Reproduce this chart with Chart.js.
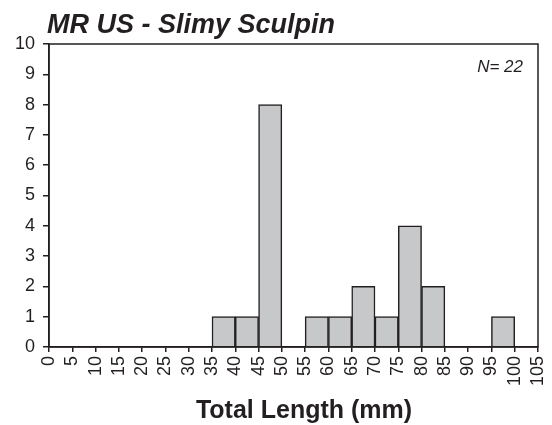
<!DOCTYPE html>
<html>
<head>
<meta charset="utf-8">
<script src="https://cdn.jsdelivr.net/npm/chart.js@4"></script>
<style>
  html, body { margin: 0; padding: 0; background: #fff; }
  #wrap { width: 552px; height: 425px; }
</style>
</head>
<body>
<div id="wrap"><canvas id="lengthChart" width="552" height="425"></canvas></div>
<script>
const chartTitle = "MR US - Slimy Sculpin";
const sampleLabel = "N= 22";
const axisTitle = "Total Length (mm)";

// left edge of each 5 mm length class and its fish count
const binEdges = [0, 5, 10, 15, 20, 25, 30, 35, 40, 45, 50, 55, 60, 65, 70, 75, 80, 85, 90, 95, 100];
const counts   = [0, 0, 0, 0, 0, 0, 0, 1, 1, 8, 0, 1, 1, 2, 1, 4, 2, 0, 0, 1, 0];
const binWidth = 5;

const ink = "#231f20";
const fontFamily = "'Liberation Sans', Arial, sans-serif";

const points = binEdges.map((e, i) => ({ x: e + binWidth / 2, y: counts[i] }));

// plot frame, titles and sample size
const frame = {
    id: "frame",
    afterDatasetsDraw(chart) {
        const a = chart.chartArea;
        const ctx = chart.ctx;
        ctx.save();
        ctx.strokeStyle = ink;
        ctx.lineWidth = 1.5;
        ctx.strokeRect(a.left, a.top, a.right - a.left, a.bottom - a.top);

        ctx.fillStyle = ink;
        ctx.textBaseline = "alphabetic";
        ctx.font = "italic bold 27px " + fontFamily;
        ctx.textAlign = "left";
        ctx.fillText(chartTitle, 47, 33);

        ctx.font = "italic 17px " + fontFamily;
        ctx.textAlign = "right";
        ctx.fillText(sampleLabel, a.right - 15, 72);

        ctx.font = "bold 25px " + fontFamily;
        ctx.textAlign = "center";
        ctx.fillText(axisTitle, 304, 418);
        ctx.restore();
    }
};

new Chart(document.getElementById("lengthChart"), {
    type: "bar",
    data: {
        datasets: [{
            data: points,
            backgroundColor: "#c7c8ca",
            borderColor: ink,
            borderWidth: 1.5,
            barPercentage: 1,
            categoryPercentage: 1
        }]
    },
    options: {
        responsive: false,
        animation: false,
        layout: { padding: { top: 44, right: 14, left: 0, bottom: 0 } },
        plugins: { legend: { display: false }, tooltip: { enabled: false } },
        scales: {
            x: {
                type: "linear",
                min: 0,
                max: 105,
                offset: false,
                afterFit(s) { s.height = 78; s.paddingLeft = 0; s.paddingRight = 0; },
                grid: { offset: false, drawOnChartArea: false, tickLength: 5, color: ink, lineWidth: 1.5 },
                border: { color: ink, width: 1.5 },
                ticks: {
                    stepSize: 5,
                    autoSkip: false,
                    minRotation: 90,
                    maxRotation: 90,
                    padding: 4,
                    color: ink,
                    font: { family: fontFamily, size: 18 }
                }
            },
            y: {
                min: 0,
                max: 10,
                afterFit(s) { s.width = 49; s.paddingTop = 0; s.paddingBottom = 0; },
                grid: { drawOnChartArea: false, tickLength: 6, color: ink, lineWidth: 1.5 },
                border: { color: ink, width: 1.5 },
                ticks: {
                    stepSize: 1,
                    padding: 8,
                    color: ink,
                    font: { family: fontFamily, size: 18 }
                }
            }
        }
    },
    plugins: [frame]
});
</script>
</body>
</html>
